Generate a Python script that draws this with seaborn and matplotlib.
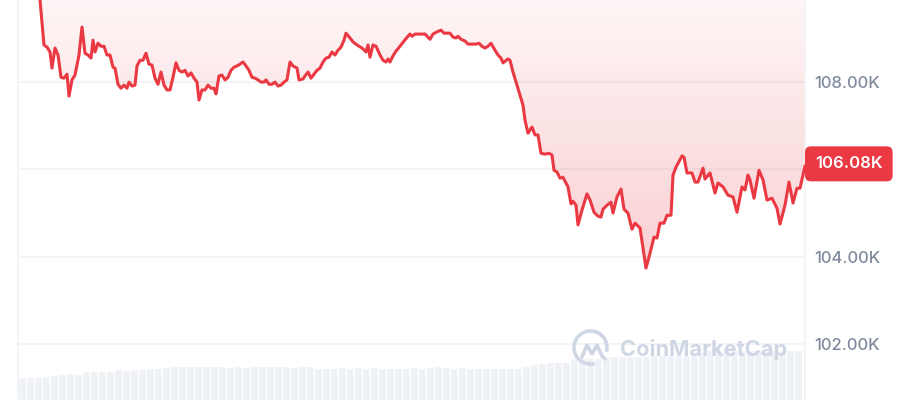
import numpy as np
import pandas as pd
import seaborn as sns
import matplotlib.pyplot as plt
from matplotlib import patches

# time axis: 787 steps cover the 24 h window
t = [0, 12, 20, 22, 26, 29, 32, 34, 37, 40,
     43, 46, 49, 51, 54, 57, 61, 64, 67, 70,
     73, 75, 77, 80, 83, 86, 89, 92, 95, 97,
     100, 103, 106, 109, 111, 114, 117, 119, 122, 125,
     128, 131, 134, 137, 140, 143, 146, 149, 152, 155,
     158, 161, 164, 167, 170, 173, 176, 179, 181, 184,
     187, 190, 193, 196, 198, 201, 204, 207, 210, 213,
     216, 219, 222, 225, 228, 231, 234, 237, 240, 243,
     246, 248, 251, 254, 257, 260, 263, 266, 269, 272,
     275, 279, 281, 285, 287, 290, 293, 296, 299, 302,
     305, 308, 311, 314, 317, 320, 323, 326, 328, 332,
     335, 339, 344, 348, 350, 352, 355, 358, 362, 365,
     368, 370, 372, 375, 378, 382, 386, 390, 392, 394,
     397, 402, 407, 412, 415, 419, 423, 426, 432, 435,
     438, 440, 443, 447, 450, 454, 458, 461, 464, 467,
     470, 473, 477, 480, 483, 485, 490, 492, 495, 499,
     502, 505, 507, 510, 514, 517, 520, 523, 527, 531,
     534, 536, 539, 542, 545, 550, 553, 555, 558, 560,
     564, 569, 572, 576, 580, 583, 585, 589, 593, 595,
     599, 603, 606, 610, 614, 617, 622, 628, 632, 636,
     639, 642, 646, 649, 653, 655, 658, 664, 666, 669,
     674, 677, 680, 685, 687, 692, 697, 700, 705, 710,
     715, 719, 724, 727, 730, 732, 736, 741, 745, 749,
     754, 759, 762, 767, 771, 775, 779, 782, 787]

# BTC price, thousands of USD
price = [110.60, 110.45, 110.11, 109.88, 108.85, 108.80, 108.69, 108.32, 108.78, 108.62,
         108.11, 108.09, 108.18, 107.68, 108.05, 108.16, 108.62, 109.26, 108.66, 108.62,
         108.55, 108.96, 108.69, 108.89, 108.82, 108.82, 108.62, 108.62, 108.34, 108.32,
         107.95, 107.86, 107.93, 107.86, 108.00, 107.91, 107.93, 108.37, 108.50, 108.50,
         108.66, 108.41, 108.39, 108.09, 107.95, 108.23, 107.93, 107.82, 107.82, 108.11,
         108.44, 108.27, 108.23, 108.27, 108.14, 108.21, 108.09, 108.00, 107.59, 107.82,
         107.82, 107.93, 107.86, 107.86, 107.73, 108.14, 108.16, 108.05, 108.11, 108.27,
         108.34, 108.37, 108.41, 108.46, 108.37, 108.27, 108.11, 108.09, 108.05, 108.00,
         108.00, 108.05, 107.95, 107.95, 108.00, 107.91, 107.93, 108.00, 108.05, 108.46,
         108.37, 108.32, 108.05, 108.07, 108.14, 108.23, 108.09, 108.18, 108.27, 108.32,
         108.46, 108.55, 108.57, 108.69, 108.62, 108.73, 108.80, 108.96, 109.12, 109.01,
         108.92, 108.85, 108.78, 108.69, 108.85, 108.57, 108.85, 108.82, 108.62, 108.50,
         108.46, 108.53, 108.46, 108.60, 108.71, 108.82, 108.94, 109.05, 109.10, 109.05,
         109.10, 109.10, 109.10, 108.98, 109.10, 109.15, 109.19, 109.12, 109.12, 109.03,
         109.01, 109.05, 108.98, 108.94, 108.87, 108.87, 108.87, 108.89, 108.82, 108.78,
         108.82, 108.89, 108.73, 108.62, 108.55, 108.44, 108.53, 108.50, 108.23, 107.93,
         107.70, 107.47, 107.13, 106.83, 106.97, 106.79, 106.79, 106.37, 106.35, 106.37,
         106.33, 105.98, 105.94, 105.80, 105.82, 105.60, 105.21, 105.27, 105.18, 104.73,
         105.07, 105.44, 105.30, 105.02, 104.93, 104.91, 105.09, 105.18, 105.25, 105.00,
         105.37, 105.55, 105.09, 105.00, 104.63, 104.77, 104.66, 103.74, 104.08, 104.45,
         104.43, 104.77, 104.77, 104.95, 104.95, 105.87, 106.05, 106.31, 106.28, 105.92,
         105.92, 105.71, 105.71, 106.03, 105.78, 105.92, 105.46, 105.69, 105.60, 105.41,
         105.37, 105.02, 105.60, 105.53, 105.87, 105.76, 105.34, 105.98, 105.76, 105.30,
         105.34, 105.11, 104.75, 105.18, 105.71, 105.23, 105.57, 105.57, 106.08]

# traded volume per 8-step bucket (arbitrary units)
volume = [23.3, 23.3, 23.3, 24.0, 25.5, 26.3, 27.0, 26.5, 29.0, 29.0,
          29.5, 29.5, 30.7, 30.0, 30.7, 31.5, 32.3, 32.3, 33.5, 34.0,
          34.0, 34.0, 34.0, 34.0, 34.0, 34.0, 33.3, 34.0, 33.5, 34.0,
          34.0, 34.0, 34.0, 34.0, 33.5, 34.0, 34.0, 32.3, 32.3, 32.3,
          33.0, 32.3, 33.0, 32.3, 33.5, 32.3, 32.3, 32.3, 32.3, 33.5,
          32.3, 33.5, 34.0, 33.0, 32.3, 33.0, 32.3, 32.3, 32.3, 32.3,
          32.3, 32.3, 32.3, 34.0, 35.7, 37.0, 38.3, 38.3, 38.3, 41.7,
          41.7, 41.7, 42.5, 44.0, 44.0, 44.0, 44.0, 44.0, 44.5, 45.0,
          45.0, 45.0, 45.0, 45.5, 46.0, 48.0, 50.0, 50.0, 50.0, 50.0,
          50.0, 50.0, 50.0, 50.0, 50.0, 50.0, 50.0, 50.0]

yticks = [102, 104, 106, 108, 110]
last_price = price[-1]

assert len(t) == len(price)

RED = "#ea3943"
GRID = "#eff1f4"
LABEL = "#808a9d"

df = pd.DataFrame({"hour": np.array(t) * 24 / 787, "price": price})
vol = pd.DataFrame({"hour": (np.arange(len(volume)) * 8 + 4) * 24 / 787, "volume": volume})

sns.set_style("white")
plt.rcParams["font.family"] = ["Inter", "DejaVu Sans"]

fig = plt.figure(figsize=(9.15, 4), dpi=100)
rect = [18 / 915, 0, 787 / 915, 1]
ymin, ymax = 100.72, 109.88

# volume bars underneath
axv = fig.add_axes(rect)
sns.barplot(data=vol, x="hour", y="volume", native_scale=True, width=0.93,
            color="#eef1f6", saturation=1, errorbar=None, ax=axv)
axv.axis("off")

# price on top
ax = fig.add_axes(rect, sharex=axv)
ax.patch.set_alpha(0)

# gradient fill between the line and the opening price
poly = ax.fill_between(df["hour"], df["price"], price[0], facecolor="none", edgecolor="none")
alpha = np.linspace(0.33, 0.05, 256)
grad = np.zeros((256, 1, 4))
grad[..., 0] = 234 / 255
grad[..., 1] = 57 / 255
grad[..., 2] = 67 / 255
grad[:, 0, 3] = alpha
img = ax.imshow(grad, extent=[0, 24, ymin, ymax], origin="lower", aspect="auto", zorder=1)
img.set_clip_path(poly.get_paths()[0], transform=ax.transData)

sns.lineplot(data=df, x="hour", y="price", color=RED, linewidth=2.2, ax=ax, zorder=3)

ax.set_yticks(yticks)
# the 106K label sits under the live-price tag
ax.set_yticklabels(["" if v == 106 else f"{v:.2f}K" for v in yticks])
ax.yaxis.tick_right()
ax.tick_params(axis="y", length=0, pad=6.5, labelsize=12, labelcolor=LABEL)
for lab in ax.get_yticklabels():
    lab.set_fontweight("medium")
ax.set_xticks([])
ax.set_xlabel("")
ax.set_ylabel("")
ax.grid(axis="y", color=GRID, linewidth=1.1)
ax.set_axisbelow(True)
for side in ["top", "bottom"]:
    ax.spines[side].set_visible(False)
for side in ["left", "right"]:
    ax.spines[side].set_color(GRID)
    ax.spines[side].set_linewidth(1.1)

ax.annotate(f"{last_price:.2f}K", xy=(1, last_price), xycoords=("axes fraction", "data"),
            xytext=(7.2, 1.5), textcoords="offset points", ha="left", va="center",
            fontsize=12, fontweight="semibold", color="white", annotation_clip=False,
            bbox=dict(boxstyle="round,pad=0.6,rounding_size=0.35", fc=RED, ec="none"))

# limits last, after seaborn is done
axv.set_ylim(0, 400)
axv.set_xlim(0, 24)
ax.set_xlim(0, 24)
ax.set_ylim(ymin, ymax)

# watermark
axo = fig.add_axes([0, 0, 1, 1])
axo.set_xlim(0, 915)
axo.set_ylim(400, 0)
axo.axis("off")
WM = "#cfd6e4"
axo.add_patch(patches.Arc((590.5, 347.5), 33, 33, theta1=75, theta2=375, color=WM, lw=2.6))
axo.plot([582, 587, 592, 597, 602, 605], [357, 345, 354, 345, 356, 359],
         color=WM, lw=2.6, solid_capstyle="round", solid_joinstyle="round")
axo.text(620, 349, "CoinMarketCap", fontsize=15.7, fontweight="bold", color=WM,
         ha="left", va="center")

fig.savefig("out.png", dpi=100)
